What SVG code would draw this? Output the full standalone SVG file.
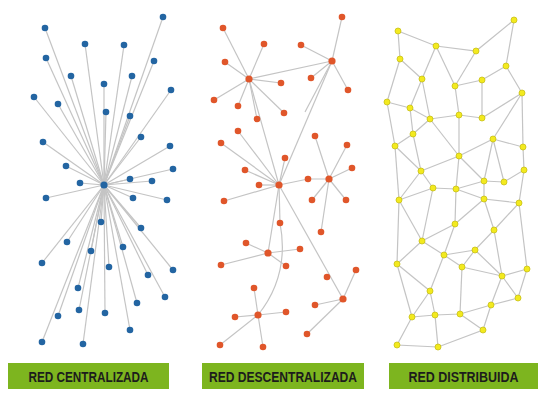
<svg xmlns="http://www.w3.org/2000/svg" width="547" height="397" viewBox="0 0 547 397">
<style>
.e line,.e polyline,.e path{stroke:#c4c4c4;stroke-width:1.2;fill:none}
.b{fill:#2365a2}
.o{fill:#e0562a}
.y{fill:#f3ea1e;stroke:#c8c018;stroke-width:0.8}
.lbl{fill:#7db51f}
.t{font-family:"Liberation Sans",Arial,sans-serif;font-weight:bold;font-size:14px;fill:#1c1c1c;text-anchor:middle}
</style>
<rect width="547" height="397" fill="#ffffff"/>
<g id="connectors" class="e">
<!-- centralized -->
<g id="c-edges">
<line x1="104" y1="185" x2="163" y2="17"/><line x1="104" y1="185" x2="45" y2="28"/><line x1="104" y1="185" x2="85" y2="44"/><line x1="104" y1="185" x2="124" y2="45"/><line x1="104" y1="185" x2="46" y2="58"/><line x1="104" y1="185" x2="154" y2="61"/><line x1="104" y1="185" x2="71" y2="76"/><line x1="104" y1="185" x2="132" y2="76"/><line x1="104" y1="185" x2="104" y2="84"/><line x1="104" y1="185" x2="171" y2="90"/><line x1="104" y1="185" x2="34" y2="97"/><line x1="104" y1="185" x2="58" y2="104"/><line x1="104" y1="185" x2="106" y2="112"/><line x1="104" y1="185" x2="130" y2="116"/><line x1="104" y1="185" x2="141" y2="137"/><line x1="104" y1="185" x2="43" y2="142"/><line x1="104" y1="185" x2="170" y2="146"/><line x1="104" y1="185" x2="66" y2="166"/><line x1="104" y1="185" x2="173" y2="169"/><line x1="104" y1="185" x2="80" y2="183"/><line x1="104" y1="185" x2="130" y2="179"/><line x1="104" y1="185" x2="152" y2="181"/><line x1="104" y1="185" x2="46" y2="198"/><line x1="104" y1="185" x2="133" y2="198"/><line x1="104" y1="185" x2="167" y2="200"/><line x1="104" y1="185" x2="101" y2="222"/><line x1="104" y1="185" x2="141" y2="228"/><line x1="104" y1="185" x2="67" y2="242"/><line x1="104" y1="185" x2="91" y2="251"/><line x1="104" y1="185" x2="123" y2="247"/><line x1="104" y1="185" x2="42" y2="263"/><line x1="104" y1="185" x2="109" y2="267"/><line x1="104" y1="185" x2="148" y2="275"/><line x1="104" y1="185" x2="173" y2="270"/><line x1="104" y1="185" x2="78" y2="288"/><line x1="104" y1="185" x2="165" y2="297"/><line x1="104" y1="185" x2="137" y2="303"/><line x1="104" y1="185" x2="58" y2="316"/><line x1="104" y1="185" x2="79" y2="310"/><line x1="104" y1="185" x2="105" y2="313"/><line x1="104" y1="185" x2="130" y2="330"/><line x1="104" y1="185" x2="42" y2="342"/><line x1="104" y1="185" x2="83" y2="344"/>
</g>
<!-- decentralized -->
<g id="d-edges">
<line x1="249" y1="79" x2="223" y2="28"/><line x1="249" y1="79" x2="264" y2="44"/><line x1="249" y1="79" x2="225" y2="62"/><line x1="249" y1="79" x2="281" y2="83"/><line x1="249" y1="79" x2="214" y2="100"/><line x1="249" y1="79" x2="238" y2="106"/><line x1="249" y1="79" x2="284" y2="113"/><line x1="249" y1="79" x2="257" y2="119"/>
<line x1="249" y1="79" x2="332" y2="61"/><line x1="249" y1="79" x2="279" y2="185"/><line x1="332" y1="61" x2="279" y2="185"/><line x1="332" y1="61" x2="305" y2="112"/>
<line x1="332" y1="61" x2="342" y2="17"/><line x1="332" y1="61" x2="301" y2="45"/><line x1="332" y1="61" x2="311" y2="78"/><line x1="332" y1="61" x2="348" y2="90"/>
<line x1="279" y1="185" x2="238" y2="131"/><line x1="279" y1="185" x2="221" y2="143"/><line x1="279" y1="185" x2="285" y2="158"/><line x1="279" y1="185" x2="245" y2="170"/><line x1="279" y1="185" x2="259" y2="185"/><line x1="279" y1="185" x2="224" y2="201"/><line x1="279" y1="185" x2="280" y2="223"/>
<polyline points="279,185 308,179 329,179"/>
<line x1="279" y1="185" x2="268" y2="253"/><line x1="279" y1="185" x2="343" y2="299"/>
<path d="M280,223 Q290,275 258,315"/>
<line x1="329" y1="179" x2="315" y2="136"/><line x1="329" y1="179" x2="347" y2="145"/><line x1="329" y1="179" x2="352" y2="168"/><line x1="329" y1="179" x2="312" y2="200"/><line x1="329" y1="179" x2="346" y2="200"/><line x1="329" y1="179" x2="321" y2="232"/>
<line x1="268" y1="253" x2="246" y2="243"/><line x1="268" y1="253" x2="300" y2="249"/><line x1="268" y1="253" x2="221" y2="265"/><line x1="268" y1="253" x2="286" y2="266"/>
<line x1="343" y1="299" x2="356" y2="270"/><line x1="343" y1="299" x2="315" y2="305"/><line x1="343" y1="299" x2="307" y2="334"/>
<line x1="258" y1="315" x2="254" y2="288"/><line x1="258" y1="315" x2="235" y2="317"/><line x1="258" y1="315" x2="286" y2="312"/><line x1="258" y1="315" x2="220" y2="345"/><line x1="258" y1="315" x2="263" y2="347"/>
</g>
<!-- distributed -->
<g id="m-edges">
<polyline points="398,31 436,46 476,51 514,20 506,66 522,93"/>
<polyline points="398,31 400,59 422,79"/><line x1="400" y1="59" x2="387" y2="102"/>
<line x1="436" y1="46" x2="422" y2="79"/><line x1="436" y1="46" x2="455" y2="86"/><line x1="476" y1="51" x2="455" y2="86"/>
<polyline points="455,86 482,80 506,66"/>
<line x1="422" y1="79" x2="410" y2="108"/><line x1="422" y1="79" x2="430" y2="119"/>
<line x1="455" y1="86" x2="459" y2="115"/><line x1="482" y1="80" x2="482" y2="118"/>
<line x1="522" y1="93" x2="482" y2="118"/><line x1="522" y1="93" x2="493" y2="139"/><line x1="522" y1="93" x2="523" y2="147"/>
<polyline points="387,102 410,108 430,119 459,115 482,118"/>
<line x1="410" y1="108" x2="413" y2="134"/><line x1="430" y1="119" x2="413" y2="134"/>
<line x1="430" y1="119" x2="459" y2="156"/><line x1="459" y1="115" x2="459" y2="156"/>
<line x1="493" y1="139" x2="459" y2="156"/><line x1="493" y1="139" x2="523" y2="147"/><line x1="493" y1="139" x2="484" y2="181"/><line x1="493" y1="139" x2="504" y2="182"/>
<polyline points="387,102 395,146 413,134 421,171 395,146"/>
<line x1="395" y1="146" x2="399" y2="200"/>
<line x1="421" y1="171" x2="459" y2="156"/><line x1="459" y1="156" x2="456" y2="189"/><line x1="459" y1="156" x2="484" y2="181"/>
<line x1="421" y1="171" x2="433" y2="188"/><line x1="421" y1="171" x2="399" y2="200"/>
<polyline points="523,147 524,170 504,182 484,181"/>
<polyline points="399,200 433,188 456,189 484,181"/>
<line x1="456" y1="189" x2="484" y2="199"/><line x1="484" y1="181" x2="484" y2="199"/>
<line x1="433" y1="188" x2="422" y2="241"/><line x1="456" y1="189" x2="455" y2="224"/>
<polyline points="524,170 519,203 527,269 518,298"/>
<line x1="484" y1="199" x2="519" y2="203"/><line x1="484" y1="199" x2="455" y2="224"/><line x1="484" y1="199" x2="494" y2="230"/>
<line x1="519" y1="203" x2="494" y2="230"/>
<line x1="455" y1="224" x2="422" y2="241"/><line x1="455" y1="224" x2="444" y2="255"/>
<line x1="399" y1="200" x2="422" y2="241"/><line x1="399" y1="200" x2="397" y2="264"/>
<line x1="422" y1="241" x2="397" y2="264"/><line x1="422" y1="241" x2="444" y2="255"/>
<polyline points="444,255 475,250 494,230 502,276"/>
<line x1="444" y1="255" x2="462" y2="267"/><line x1="444" y1="255" x2="430" y2="291"/>
<line x1="475" y1="250" x2="462" y2="267"/><line x1="475" y1="250" x2="502" y2="276"/>
<polyline points="462,267 502,276 527,269"/>
<line x1="462" y1="267" x2="460" y2="314"/>
<line x1="502" y1="276" x2="518" y2="298"/><line x1="502" y1="276" x2="491" y2="305"/>
<polyline points="518,298 491,305 460,314 435,315 412,317 397,345 438,347 483,330 491,305"/>
<line x1="460" y1="314" x2="483" y2="330"/>
<line x1="435" y1="315" x2="430" y2="291"/><line x1="435" y1="315" x2="438" y2="347"/>
<line x1="430" y1="291" x2="412" y2="317"/><line x1="430" y1="291" x2="397" y2="264"/>
<line x1="412" y1="317" x2="397" y2="264"/>
</g>
</g>
<g id="centralized-nodes" class="b">
<g id="c-hub"><circle cx="104" cy="185" r="3.6"/></g>
<g id="c1"><circle cx="163" cy="17" r="3.3"/></g><g id="c2"><circle cx="45" cy="28" r="3.3"/></g><g id="c3"><circle cx="85" cy="44" r="3.3"/></g><g id="c4"><circle cx="124" cy="45" r="3.3"/></g><g id="c5"><circle cx="46" cy="58" r="3.3"/></g><g id="c6"><circle cx="154" cy="61" r="3.3"/></g><g id="c7"><circle cx="71" cy="76" r="3.3"/></g><g id="c8"><circle cx="132" cy="76" r="3.3"/></g><g id="c9"><circle cx="104" cy="84" r="3.3"/></g><g id="c10"><circle cx="171" cy="90" r="3.3"/></g><g id="c11"><circle cx="34" cy="97" r="3.3"/></g><g id="c12"><circle cx="58" cy="104" r="3.3"/></g><g id="c13"><circle cx="106" cy="112" r="3.3"/></g><g id="c14"><circle cx="130" cy="116" r="3.3"/></g><g id="c15"><circle cx="141" cy="137" r="3.3"/></g><g id="c16"><circle cx="43" cy="142" r="3.3"/></g><g id="c17"><circle cx="170" cy="146" r="3.3"/></g><g id="c18"><circle cx="66" cy="166" r="3.3"/></g><g id="c19"><circle cx="173" cy="169" r="3.3"/></g><g id="c20"><circle cx="80" cy="183" r="3.3"/></g><g id="c21"><circle cx="130" cy="179" r="3.3"/></g><g id="c22"><circle cx="152" cy="181" r="3.3"/></g><g id="c23"><circle cx="46" cy="198" r="3.3"/></g><g id="c24"><circle cx="133" cy="198" r="3.3"/></g><g id="c25"><circle cx="167" cy="200" r="3.3"/></g><g id="c26"><circle cx="101" cy="222" r="3.3"/></g><g id="c27"><circle cx="141" cy="228" r="3.3"/></g><g id="c28"><circle cx="67" cy="242" r="3.3"/></g><g id="c29"><circle cx="91" cy="251" r="3.3"/></g><g id="c30"><circle cx="123" cy="247" r="3.3"/></g><g id="c31"><circle cx="42" cy="263" r="3.3"/></g><g id="c32"><circle cx="109" cy="267" r="3.3"/></g><g id="c33"><circle cx="148" cy="275" r="3.3"/></g><g id="c34"><circle cx="173" cy="270" r="3.3"/></g><g id="c35"><circle cx="78" cy="288" r="3.3"/></g><g id="c36"><circle cx="165" cy="297" r="3.3"/></g><g id="c37"><circle cx="137" cy="303" r="3.3"/></g><g id="c38"><circle cx="58" cy="316" r="3.3"/></g><g id="c39"><circle cx="79" cy="310" r="3.3"/></g><g id="c40"><circle cx="105" cy="313" r="3.3"/></g><g id="c41"><circle cx="130" cy="330" r="3.3"/></g><g id="c42"><circle cx="42" cy="342" r="3.3"/></g><g id="c43"><circle cx="83" cy="344" r="3.3"/></g>
</g>
<g id="decentralized-nodes" class="o">
<g id="d-hubA"><circle cx="249" cy="79" r="3.6"/></g><g id="d-hubB"><circle cx="332" cy="61" r="3.6"/></g><g id="d-hubC"><circle cx="279" cy="185" r="3.6"/></g><g id="d-hubD"><circle cx="329" cy="179" r="3.6"/></g><g id="d-hubE"><circle cx="268" cy="253" r="3.6"/></g><g id="d-hubF"><circle cx="343" cy="299" r="3.6"/></g><g id="d-hubG"><circle cx="258" cy="315" r="3.6"/></g>
<g id="d1"><circle cx="223" cy="28" r="3.3"/></g><g id="d2"><circle cx="264" cy="44" r="3.3"/></g><g id="d3"><circle cx="225" cy="62" r="3.3"/></g><g id="d4"><circle cx="281" cy="83" r="3.3"/></g><g id="d5"><circle cx="214" cy="100" r="3.3"/></g><g id="d6"><circle cx="238" cy="106" r="3.3"/></g><g id="d7"><circle cx="284" cy="113" r="3.3"/></g><g id="d8"><circle cx="257" cy="119" r="3.3"/></g>
<g id="d9"><circle cx="342" cy="17" r="3.3"/></g><g id="d10"><circle cx="301" cy="45" r="3.3"/></g><g id="d11"><circle cx="311" cy="78" r="3.3"/></g><g id="d12"><circle cx="348" cy="90" r="3.3"/></g>
<g id="d13"><circle cx="238" cy="131" r="3.3"/></g><g id="d14"><circle cx="221" cy="143" r="3.3"/></g><g id="d15"><circle cx="285" cy="158" r="3.3"/></g><g id="d16"><circle cx="245" cy="170" r="3.3"/></g><g id="d17"><circle cx="259" cy="185" r="3.3"/></g><g id="d18"><circle cx="224" cy="201" r="3.3"/></g><g id="d19"><circle cx="280" cy="223" r="3.3"/></g>
<g id="d20"><circle cx="315" cy="136" r="3.3"/></g><g id="d21"><circle cx="347" cy="145" r="3.3"/></g><g id="d22"><circle cx="352" cy="168" r="3.3"/></g><g id="d23"><circle cx="308" cy="179" r="3.3"/></g><g id="d24"><circle cx="312" cy="200" r="3.3"/></g><g id="d25"><circle cx="346" cy="200" r="3.3"/></g><g id="d26"><circle cx="321" cy="232" r="3.3"/></g>
<g id="d27"><circle cx="246" cy="243" r="3.3"/></g><g id="d28"><circle cx="300" cy="249" r="3.3"/></g><g id="d29"><circle cx="221" cy="265" r="3.3"/></g><g id="d30"><circle cx="286" cy="266" r="3.3"/></g>
<g id="d31"><circle cx="356" cy="270" r="3.3"/></g><g id="d32"><circle cx="327" cy="277" r="3.3"/></g><g id="d33"><circle cx="315" cy="305" r="3.3"/></g><g id="d34"><circle cx="307" cy="334" r="3.3"/></g>
<g id="d35"><circle cx="254" cy="288" r="3.3"/></g><g id="d36"><circle cx="235" cy="317" r="3.3"/></g><g id="d37"><circle cx="286" cy="312" r="3.3"/></g><g id="d38"><circle cx="220" cy="345" r="3.3"/></g><g id="d39"><circle cx="263" cy="347" r="3.3"/></g>
</g>
<g id="distributed-nodes" class="y">
<g id="m-a"><circle cx="514" cy="20" r="3"/></g><g id="m-b"><circle cx="398" cy="31" r="3"/></g><g id="m-c"><circle cx="436" cy="46" r="3"/></g><g id="m-d"><circle cx="476" cy="51" r="3"/></g><g id="m-e"><circle cx="400" cy="59" r="3"/></g><g id="m-f"><circle cx="506" cy="66" r="3"/></g><g id="m-g"><circle cx="422" cy="79" r="3"/></g><g id="m-h"><circle cx="455" cy="86" r="3"/></g><g id="m-i"><circle cx="482" cy="80" r="3"/></g><g id="m-j"><circle cx="522" cy="93" r="3"/></g><g id="m-k"><circle cx="387" cy="102" r="3"/></g><g id="m-l"><circle cx="410" cy="108" r="3"/></g><g id="m-m"><circle cx="459" cy="115" r="3"/></g><g id="m-n"><circle cx="482" cy="118" r="3"/></g><g id="m-o"><circle cx="430" cy="119" r="3"/></g><g id="m-p"><circle cx="413" cy="134" r="3"/></g><g id="m-q"><circle cx="493" cy="139" r="3"/></g><g id="m-r"><circle cx="395" cy="146" r="3"/></g><g id="m-s"><circle cx="523" cy="147" r="3"/></g><g id="m-t"><circle cx="459" cy="156" r="3"/></g><g id="m-u"><circle cx="421" cy="171" r="3"/></g><g id="m-v"><circle cx="524" cy="170" r="3"/></g><g id="m-w"><circle cx="484" cy="181" r="3"/></g><g id="m-x"><circle cx="504" cy="182" r="3"/></g><g id="m-y"><circle cx="433" cy="188" r="3"/></g><g id="m-z"><circle cx="456" cy="189" r="3"/></g>
<g id="m-A1"><circle cx="399" cy="200" r="3"/></g><g id="m-B1"><circle cx="484" cy="199" r="3"/></g><g id="m-C1"><circle cx="519" cy="203" r="3"/></g><g id="m-D1"><circle cx="455" cy="224" r="3"/></g><g id="m-E1"><circle cx="494" cy="230" r="3"/></g><g id="m-F1"><circle cx="422" cy="241" r="3"/></g><g id="m-G1"><circle cx="475" cy="250" r="3"/></g><g id="m-H1"><circle cx="444" cy="255" r="3"/></g><g id="m-I1"><circle cx="397" cy="264" r="3"/></g><g id="m-J1"><circle cx="462" cy="267" r="3"/></g><g id="m-K1"><circle cx="527" cy="269" r="3"/></g><g id="m-L1"><circle cx="502" cy="276" r="3"/></g><g id="m-M1"><circle cx="430" cy="291" r="3"/></g><g id="m-N1"><circle cx="518" cy="298" r="3"/></g><g id="m-O1"><circle cx="491" cy="305" r="3"/></g><g id="m-P1"><circle cx="412" cy="317" r="3"/></g><g id="m-Q1"><circle cx="435" cy="315" r="3"/></g><g id="m-R1"><circle cx="460" cy="314" r="3"/></g><g id="m-S1"><circle cx="483" cy="330" r="3"/></g><g id="m-T1"><circle cx="397" cy="345" r="3"/></g><g id="m-U1"><circle cx="438" cy="347" r="3"/></g>
</g>
<g id="label-centralizada"><rect class="lbl" x="8" y="363" width="161" height="26"/><text class="t" x="88.5" y="381.5" textLength="120" lengthAdjust="spacingAndGlyphs">RED CENTRALIZADA</text></g>
<g id="label-descentralizada"><rect class="lbl" x="202" y="363" width="162" height="26"/><text class="t" x="283" y="381.5" textLength="148" lengthAdjust="spacingAndGlyphs">RED DESCENTRALIZADA</text></g>
<g id="label-distribuida"><rect class="lbl" x="389" y="363" width="149" height="26"/><text class="t" x="463.5" y="381.5" textLength="110" lengthAdjust="spacingAndGlyphs">RED DISTRIBUIDA</text></g>
</svg>
